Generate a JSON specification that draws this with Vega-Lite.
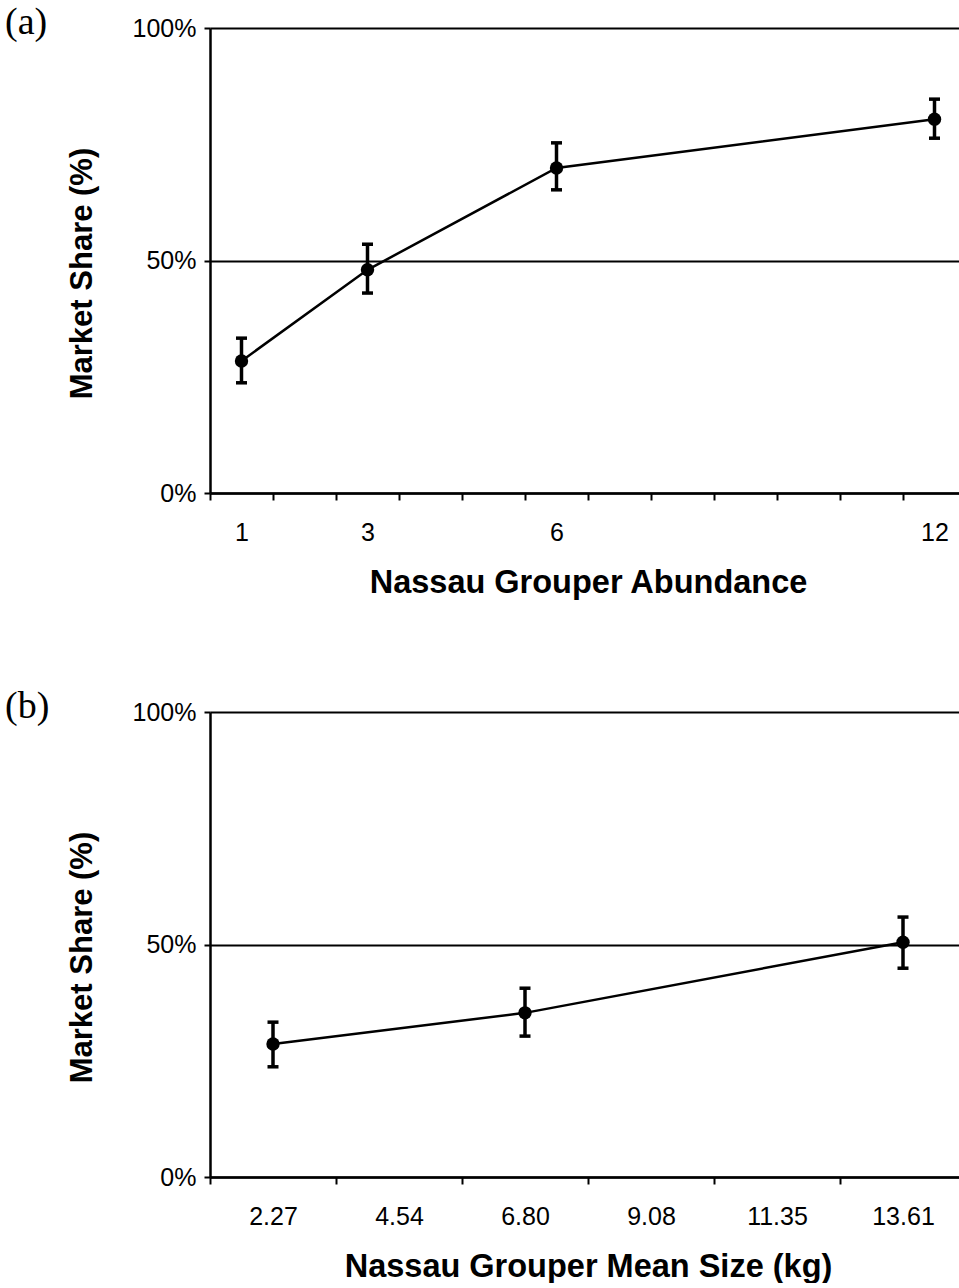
{
  "$schema": "https://vega.github.io/schema/vega-lite/v6.json",
  "background": "white",
  "padding": {"left": 5, "top": 4, "right": 0, "bottom": 0},
  "spacing": 89,
  "config": {
    "view": {"stroke": null},
    "font": "Liberation Sans",
    "axis": {
      "domainColor": "black", "domainWidth": 2.5, "tickColor": "black", "tickWidth": 2,
      "labelColor": "black", "labelFontSize": 25, "labelFont": "Liberation Sans",
      "titleColor": "black", "titleFontWeight": "bold", "titleFont": "Liberation Sans"
    },
    "axisY": {
      "grid": true, "gridColor": "black", "titleFontSize": 31,
      "gridWidth": 2.2, "gridOpacity": 1, "tickSize": 6, "labelPadding": 8, "titlePadding": 34, "titleY": 245
    },
    "axisX": {
      "grid": false, "tickBand": "extent", "tickSize": 7, "labelAngle": 0, "labelPadding": 20,
      "titleFontSize": 32.5, "titlePadding": 21, "labelOverlap": false
    },
    "title": {"font": "Liberation Serif", "fontSize": 38, "fontWeight": "normal", "color": "black", "anchor": "start", "frame": "group"}
  },
  "vconcat": [
    {
      "title": {"text": "(a)", "dx": -205, "offset": -26},
      "width": 756,
      "height": 465,
      "data": {"values": [
        {"abundance": 1, "share": 28.4, "lo": 23.7, "hi": 33.3},
        {"abundance": 3, "share": 48.0, "lo": 43.0, "hi": 53.5},
        {"abundance": 6, "share": 69.9, "lo": 65.2, "hi": 75.3},
        {"abundance": 12, "share": 80.4, "lo": 76.3, "hi": 84.7}
      ]},
      "encoding": {
        "x": {
          "field": "abundance", "type": "ordinal", "title": "Nassau Grouper Abundance",
          "scale": {"domain": [1, 2, 3, 4, 5, 6, 7, 8, 9, 10, 11, 12], "paddingInner": 0, "paddingOuter": 0},
          "axis": {"labelExpr": "indexof([1, 3, 6, 12], datum.value) >= 0 ? datum.label : ''"}
        }
      },
      "layer": [
        {"mark": {"type": "line", "color": "black", "strokeWidth": 2.5},
         "encoding": {"y": {"field": "share", "type": "quantitative", "title": "Market Share (%)", "scale": {"domain": [0, 100]},
           "axis": {"values": [0, 50, 100], "labelExpr": "datum.value + '%'"}}}},
        {"mark": {"type": "rule", "color": "black", "strokeWidth": 3.5},
         "encoding": {"y": {"field": "lo", "type": "quantitative", "title": "Market Share (%)"}, "y2": {"field": "hi"}}},
        {"mark": {"type": "tick", "color": "black", "thickness": 3.5, "size": 11, "opacity": 1},
         "encoding": {"y": {"field": "lo", "type": "quantitative", "title": "Market Share (%)"}}},
        {"mark": {"type": "tick", "color": "black", "thickness": 3.5, "size": 11, "opacity": 1},
         "encoding": {"y": {"field": "hi", "type": "quantitative", "title": "Market Share (%)"}}},
        {"mark": {"type": "point", "filled": true, "color": "black", "size": 180, "opacity": 1},
         "encoding": {"y": {"field": "share", "type": "quantitative", "title": "Market Share (%)"}}}
      ]
    },
    {
      "title": {"text": "(b)", "dx": -205, "offset": -26},
      "width": 756,
      "height": 465,
      "data": {"values": [
        {"size": "2.27", "share": 28.6, "lo": 23.7, "hi": 33.3},
        {"size": "6.80", "share": 35.3, "lo": 30.3, "hi": 40.6},
        {"size": "13.61", "share": 50.5, "lo": 44.9, "hi": 55.9}
      ]},
      "encoding": {
        "x": {
          "field": "size", "type": "ordinal", "title": "Nassau Grouper Mean Size (kg)",
          "scale": {"domain": ["2.27", "4.54", "6.80", "9.08", "11.35", "13.61"], "paddingInner": 0, "paddingOuter": 0}
        }
      },
      "layer": [
        {"mark": {"type": "line", "color": "black", "strokeWidth": 2.5},
         "encoding": {"y": {"field": "share", "type": "quantitative", "title": "Market Share (%)", "scale": {"domain": [0, 100]},
           "axis": {"values": [0, 50, 100], "labelExpr": "datum.value + '%'"}}}},
        {"mark": {"type": "rule", "color": "black", "strokeWidth": 3.5},
         "encoding": {"y": {"field": "lo", "type": "quantitative", "title": "Market Share (%)"}, "y2": {"field": "hi"}}},
        {"mark": {"type": "tick", "color": "black", "thickness": 3.5, "size": 11, "opacity": 1},
         "encoding": {"y": {"field": "lo", "type": "quantitative", "title": "Market Share (%)"}}},
        {"mark": {"type": "tick", "color": "black", "thickness": 3.5, "size": 11, "opacity": 1},
         "encoding": {"y": {"field": "hi", "type": "quantitative", "title": "Market Share (%)"}}},
        {"mark": {"type": "point", "filled": true, "color": "black", "size": 180, "opacity": 1},
         "encoding": {"y": {"field": "share", "type": "quantitative", "title": "Market Share (%)"}}}
      ]
    }
  ]
}
